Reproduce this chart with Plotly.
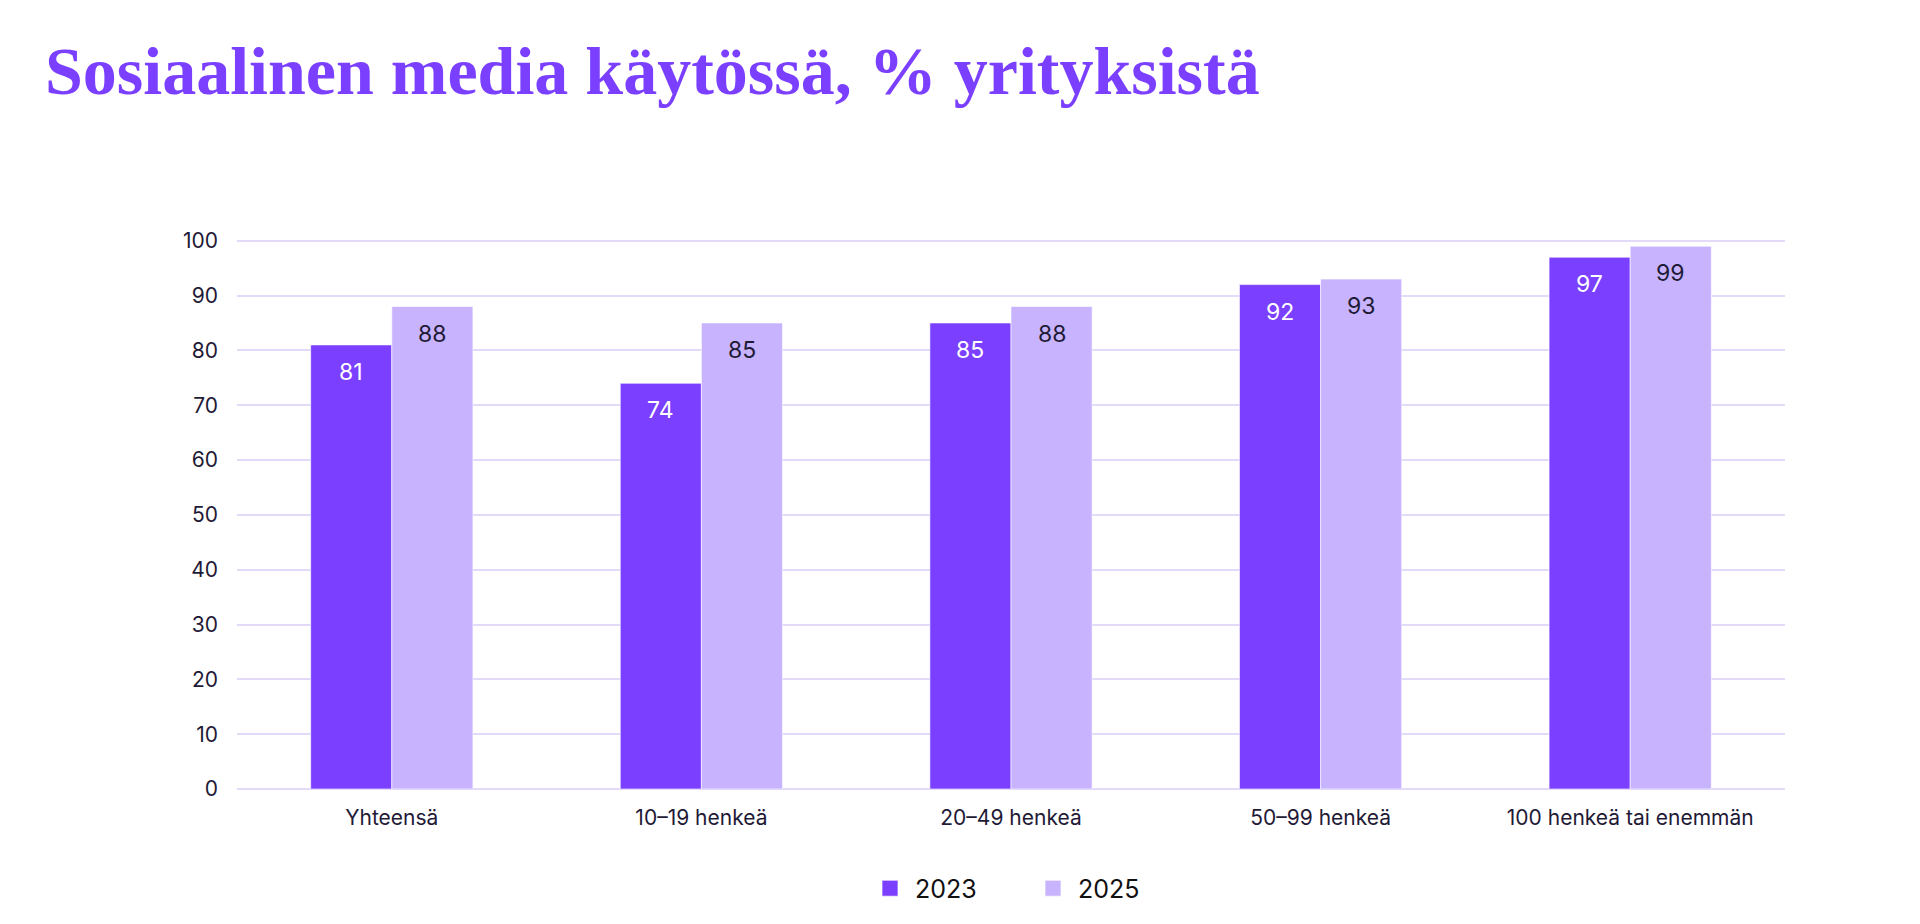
import plotly.graph_objects as go

categories = ["Yhteensä", "10–19 henkeä", "20–49 henkeä", "50–99 henkeä", "100 henkeä tai enemmän"]
values_2023 = [81, 74, 85, 92, 97]
values_2025 = [88, 85, 88, 93, 99]
y_ticks = [0, 10, 20, 30, 40, 50, 60, 70, 80, 90, 100]

C2023 = "#7B3FFF"
C2025 = "#C8B3FF"
TEXT = "#1F1A36"
SANS = "Inter, Lato, Noto Sans, sans-serif"

W, H = 1904, 916
L, R, T, B = 229, 127, 230, 132
plot_w = W - L - R
plot_h = H - T - B
bargap = 0.476
bar_w = plot_w / len(categories) * (1 - bargap) / 2

fig = go.Figure()
fig.add_trace(go.Bar(
    name="2023", x=categories, y=values_2023, marker_color=C2023,
    marker_line=dict(color="rgba(255,255,255,0.6)", width=1), showlegend=False,
))
fig.add_trace(go.Bar(
    name="2025", x=categories, y=values_2025, marker_color=C2025,
    marker_line=dict(color="rgba(255,255,255,0.6)", width=1), showlegend=False,
))
# legend entries with larger square swatches
for name, col in [("2023", C2023), ("2025", C2025)]:
    fig.add_trace(go.Scatter(
        name=name, x=[None], y=[None], mode="markers",
        marker=dict(symbol="square", size=16, color=col, line=dict(color="rgba(255,255,255,0.7)", width=1)),
    ))

annotations = [dict(
    text="<b>Sosiaalinen media käytössä, % yrityksistä</b>",
    xref="paper", yref="paper", x=(35 - L) / plot_w, y=1 + (T - 62) / plot_h,
    xanchor="left", yanchor="middle", showarrow=False,
    font=dict(family="Liberation Serif, DejaVu Serif, serif", size=68, color=C2023),
)]
for vals, shift, col in [(values_2023, -bar_w / 2, "white"), (values_2025, bar_w / 2, TEXT)]:
    for c, v in zip(categories, vals):
        annotations.append(dict(
            x=c, y=v, xref="x", yref="y", text=str(v), showarrow=False,
            xshift=shift, yshift=-27, xanchor="center", yanchor="middle",
            font=dict(family=SANS, size=23, color=col),
        ))

fig.update_layout(
    width=W, height=H,
    barmode="group", bargap=bargap, bargroupgap=0,
    plot_bgcolor="white", paper_bgcolor="white",
    margin=dict(l=L, r=R, t=T, b=B),
    font=dict(family=SANS, color=TEXT, size=21),
    annotations=annotations,
    legend=dict(
        orientation="h", x=0.5 + 17 / plot_w, xanchor="center",
        y=((H - B) - 884) / plot_h, yanchor="middle",
        font=dict(size=25, color="#111111", family=SANS),
        traceorder="normal", itemwidth=40, entrywidth=108,
    ),
    xaxis=dict(showgrid=False, ticks="", showline=False, ticklabelstandoff=14,
               tickfont=dict(size=21, color=TEXT), automargin=False),
    yaxis=dict(range=[0, 100.5], tickvals=y_ticks, showgrid=True, gridcolor="#E2DAF8",
               gridwidth=1.5, zeroline=True, zerolinecolor="#E2DAF8", zerolinewidth=1.5,
               ticks="", ticklabelstandoff=18, tickfont=dict(size=21, color=TEXT), automargin=False),
)

fig.write_html("out.html")
